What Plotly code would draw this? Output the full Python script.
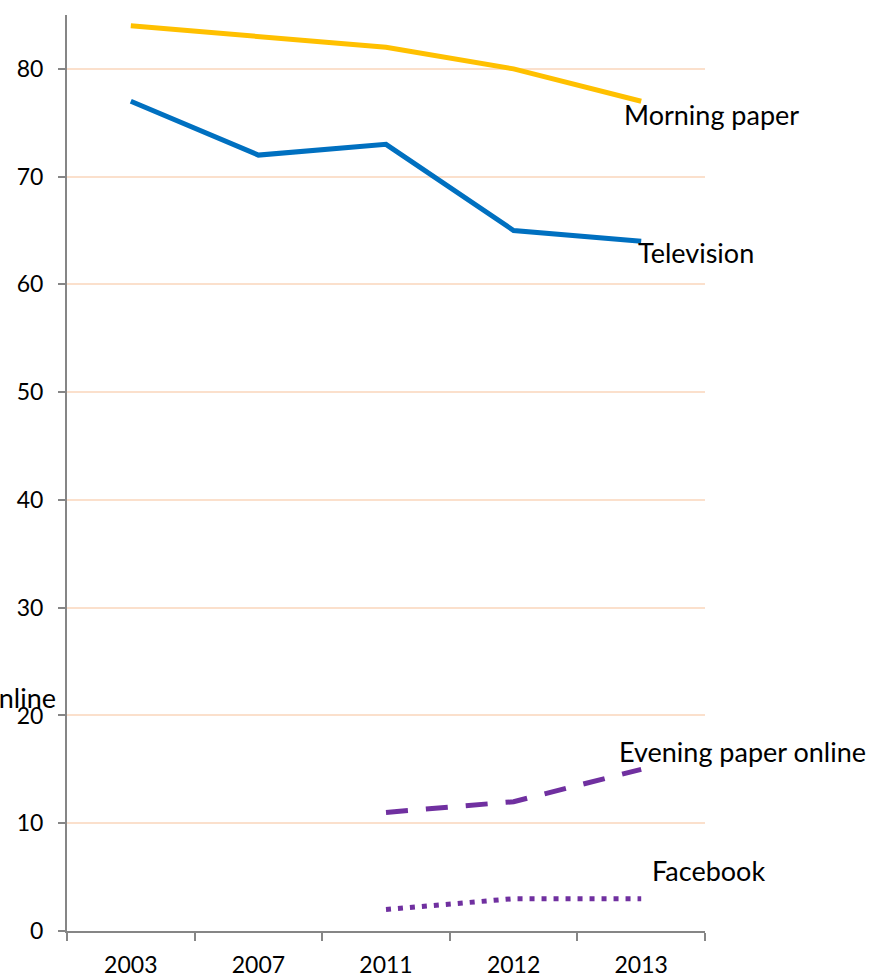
import plotly.graph_objects as go

years = ["2003", "2007", "2011", "2012", "2013"]
morning_paper = [84, 83, 82, 80, 77]
television = [77, 72, 73, 65, 64]
evening_online = [None, None, 11, 12, 15]
facebook = [None, None, 2, 3, 3]

FONT = "Lato, 'Open Sans', sans-serif"

fig = go.Figure()
fig.add_trace(go.Scatter(x=years, y=morning_paper, mode="lines",
                         line=dict(color="#FFC000", width=5), name="Morning paper"))
fig.add_trace(go.Scatter(x=years, y=television, mode="lines",
                         line=dict(color="#0070C0", width=5), name="Television"))
fig.add_trace(go.Scatter(x=years, y=evening_online, mode="lines",
                         line=dict(color="#7030A0", width=5, dash="22px,18px"),
                         name="Evening paper online"))
fig.add_trace(go.Scatter(x=years, y=facebook, mode="lines",
                         line=dict(color="#7030A0", width=5, dash="5px,7px"),
                         name="Facebook"))

# Series labels placed beside the last data points
labels = [
    ("Morning paper", 4, morning_paper[4], -0.15, -13),
    ("Television", 4, television[4], -0.04, -11),
    ("Evening paper online", 4, evening_online[4], -0.19, 18),
    ("Facebook", 4, facebook[4], 0.07, 28),
]
for text, xi, yv, dx, dy in labels:
    fig.add_annotation(x=xi + dx, y=yv, xref="x", yref="y", text=text,
                       showarrow=False, xanchor="left", yanchor="middle",
                       yshift=dy, font=dict(size=27, color="#000000", family=FONT))

# Stray label at the left edge, mostly outside the page
fig.add_annotation(x=-0.014, y=21.7, xref="paper", yref="y", text="Evening paper online",
                   showarrow=False, xanchor="right", yanchor="middle",
                   font=dict(size=27, color="#000000", family=FONT))

fig.update_layout(
    width=871, height=978,
    margin=dict(l=67, r=166, t=15, b=47),
    paper_bgcolor="white", plot_bgcolor="white",
    showlegend=False,
    font=dict(family=FONT, size=23, color="#000000"),
)
fig.update_xaxes(
    type="category", tickson="boundaries", ticks="outside", ticklen=8,
    tickcolor="#868686", tickwidth=2, showline=True, linecolor="#868686", linewidth=2,
    showgrid=False, tickfont=dict(size=23, family=FONT), range=[-0.5, 4.5],
    ticklabelstandoff=12, automargin=False,
)
fig.update_yaxes(
    range=[0, 85], tickvals=[0, 10, 20, 30, 40, 50, 60, 70, 80],
    ticks="outside", ticklen=7, tickcolor="#868686", tickwidth=2,
    showline=True, linecolor="#868686", linewidth=2,
    showgrid=True, gridcolor="#FBE0CC", gridwidth=2, zeroline=False,
    tickfont=dict(size=23, family=FONT), ticklabelstandoff=10, automargin=False,
)

fig.write_html("out.html")
